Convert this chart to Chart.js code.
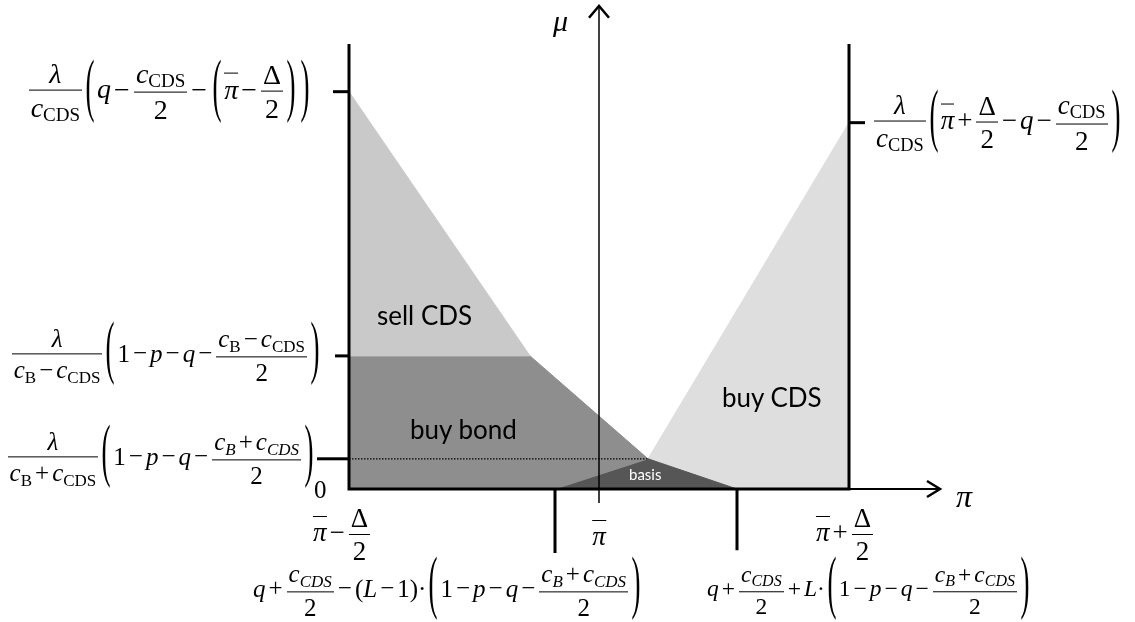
<!DOCTYPE html>
<html>
<head>
<meta charset="utf-8">
<script src="https://cdn.jsdelivr.net/npm/chart.js@4.4.0/dist/chart.umd.min.js"></script>
<style>
  html, body { margin: 0; padding: 0; background: #fff; }
  #wrap { position: relative; width: 1135px; height: 622px; overflow: hidden; }
  #c { position: absolute; left: 0; top: 0; }
  .m { position: absolute; font-family: "Liberation Serif", "DejaVu Serif", serif; font-size: 25px; line-height: 1; white-space: nowrap; color: #000; }
  .m i { font-style: italic; }
  .fr { display: inline-block; vertical-align: middle; text-align: center; margin: 0 1px; }
  .fr > span { display: block; padding: 0 2px; }
  .fr > .n { border-bottom: 1.3px solid #000; padding-bottom: 2px; }
  .fr > .d { padding-top: 3px; }
  .sb { font-size: 0.68em; vertical-align: -0.25em; }
  .sb.it { font-style: italic; }
  .op { margin: 0 3px; }
  .pr { display: inline-block; font-size: 30px; transform: scale(0.9, 2.3); transform-origin: 50% 60%; margin: 0 2px; }
  .ov { display: inline-block; border-top: 1.3px solid #000; padding-top: 5px; line-height: 0.75; }
  .rg { position: absolute; font-family: "Lato", "Open Sans", sans-serif; font-size: 26px; color: #000; white-space: nowrap; }
</style>
</head>
<body>
<div id="wrap"><canvas id="c" width="1135" height="622"></canvas></div>
<script>
// units: π runs from π̄−Δ/2 (0) to π̄+Δ/2 (10), π̄ at 5; μ runs up from 0
const X_MAX = 10, Y_TOP = 11.2;
const PI_BAR = 5;
const MU_HI = 10, MU_MID = 3.35, MU_LO = 0.76, MU_RIGHT = 9.22;
const X_KINK = 3.62, X_BASIS = 5.98, X_LEFT_TICK = 4.12, X_RIGHT_TICK = 7.76;

// shaded regions (polygons)
const sellCDS = [[0, MU_HI], [X_KINK, MU_MID], [0, MU_MID]];
const buyBond = [[0, MU_MID], [X_KINK, MU_MID], [X_BASIS, MU_LO], [X_LEFT_TICK, 0], [0, 0]];
const basis   = [[X_LEFT_TICK, 0], [X_BASIS, MU_LO], [X_RIGHT_TICK, 0]];
const buyCDS  = [[X_BASIS, MU_LO], [X_MAX, MU_RIGHT], [X_MAX, 0], [X_RIGHT_TICK, 0]];

// tick positions
const leftTicks   = [MU_HI, MU_MID, MU_LO];
const bottomTicks = [0, PI_BAR, X_MAX];

// --- tiny math-markup helpers ---
const I = (s) => `<i>${s}</i>`;
const sub = (s, it) => `<span class="sb${it ? ' it' : ''}">${s}</span>`;
const frac = (n, d) => `<span class="fr"><span class="n">${n}</span><span class="d">${d}</span></span>`;
const op = (s) => `<span class="op">${s}</span>`;
const P = (s) => `<span class="pr">${s}</span>`;
const bar = (s) => `<span class="ov">${s}</span>`;
const cCDS = I('c') + sub('CDS'), cB = I('c') + sub('B');
const cCDSi = I('c') + sub('CDS', true), cBi = I('c') + sub('B', true);
const lam = I('λ');
const pib = bar(I('π'));
const mid = '1' + op('−') + I('p') + op('−') + I('q') + op('−');

const leftLabels = [
  frac(lam, cCDS) + P('(') + I('q') + op('−') + frac(cCDS, '2') + op('−') + P('(') + pib + op('−') + frac('Δ', '2') + P(')') + P(')'),
  frac(lam, cB + op('−') + cCDS) + P('(') + mid + frac(cB + op('−') + cCDS, '2') + P(')'),
  frac(lam, cB + op('+') + cCDS) + P('(') + mid + frac(cBi + op('+') + cCDSi, '2') + P(')'),
];
const leftLabelRight = [312, 322, 316];
const leftLabelSize = ['28px', '25px', '25px'];
const bottomLabels = [pib + op('−') + frac('Δ', '2'), pib, pib + op('+') + frac('Δ', '2')];
const rightLabel = frac(lam, cCDS) + P('(') + pib + op('+') + frac('Δ', '2') + op('−') + I('q') + op('−') + frac(cCDS, '2') + P(')');
const lowLeft = I('q') + op('+') + frac(cCDSi, '2') + op('−') + '(' + I('L') + op('−') + '1)·' + P('(') + mid + frac(cBi + op('+') + cCDSi, '2') + P(')');
const lowRight = I('q') + op('+') + frac(cCDSi, '2') + op('+') + I('L') + '·' + P('(') + mid + frac(cBi + op('+') + cCDSi, '2') + P(')');

const pts = (arr) => arr.map(([x, y]) => ({ x, y }));
const region = (arr, color) => ({ data: pts(arr), fill: 'shape', backgroundColor: color, borderColor: color, borderWidth: 1, pointRadius: 0, order: 3, clip: false });
const stroke = (arr, w, dash) => ({ data: pts(arr), fill: false, borderColor: '#000', borderWidth: w, borderDash: dash || [], pointRadius: 0, order: 1, clip: false });

const datasets = [
  region(sellCDS, '#c9c9c9'),
  region(buyBond, '#8e8e8e'),
  region(basis, '#565656'),
  region(buyCDS, '#dedede'),
  stroke([[0, MU_LO], [X_BASIS, MU_LO]], 1.3, [1.5, 1.5]),
  stroke([[0, Y_TOP], [0, 0], [X_MAX, 0], [X_MAX, Y_TOP]], 3),
  stroke([[X_MAX, 0], [11.82, 0]], 2),
  stroke([[11.56, 0.2], [11.82, 0], [11.56, -0.2]], 2.5),
  stroke([[PI_BAR, -0.35], [PI_BAR, 12.15]], 1.5),
  stroke([[4.8, 11.86], [PI_BAR, 12.16], [5.2, 11.86]], 2.5),
  stroke([[-0.32, MU_HI], [0, MU_HI]], 3),
  stroke([[-0.28, MU_MID], [0, MU_MID]], 3),
  stroke([[-0.64, MU_LO], [0, MU_LO]], 3),
  stroke([[X_MAX, MU_RIGHT], [10.32, MU_RIGHT]], 3),
  stroke([[X_LEFT_TICK, 0], [X_LEFT_TICK, -1.61]], 3),
  stroke([[X_RIGHT_TICK, 0], [X_RIGHT_TICK, -1.54]], 3),
];

const chart = new Chart(document.getElementById('c'), {
  type: 'line',
  data: { datasets },
  options: {
    responsive: false, animation: false, events: [],
    layout: { padding: { left: 349, right: 286, top: 44, bottom: 133 } },
    scales: {
      x: { type: 'linear', min: 0, max: X_MAX, display: false },
      y: { type: 'linear', min: 0, max: Y_TOP, display: false },
    },
    elements: { line: { tension: 0 } },
    plugins: { legend: { display: false }, tooltip: { enabled: false } },
  },
});

// --- text overlay, placed through the chart's scales ---
const wrap = document.getElementById('wrap');
const xs = chart.scales.x, ys = chart.scales.y;
function put(html, cls, css) {
  const d = document.createElement('div');
  d.className = cls; d.innerHTML = html;
  Object.assign(d.style, css);
  wrap.appendChild(d);
  return d;
}
leftTicks.forEach((v, i) => put(leftLabels[i], 'm', { right: (1135 - leftLabelRight[i]) + 'px', top: ys.getPixelForValue(v) + 'px', transform: 'translateY(-50%)', fontSize: leftLabelSize[i] }));
bottomTicks.forEach((v, i) => put(bottomLabels[i], 'm', { left: (xs.getPixelForValue(v) - (i === 0 ? 7 : i === 2 ? 4 : 0)) + 'px', top: '535px', transform: 'translate(-50%,-50%)', fontSize: '27px' }));
put(rightLabel, 'm', { left: '873px', top: ys.getPixelForValue(MU_RIGHT) + 'px', transform: 'translateY(-50%)', fontSize: '27px' });
put(lowLeft, 'm', { left: '253px', top: '591px', transform: 'translateY(-50%)' });
put(lowRight, 'm', { left: '707px', top: '591px', transform: 'translateY(-50%)', fontSize: '23.5px' });
put('0', 'm', { left: '314px', top: '477px' });
put(I('μ'), 'm', { left: '553px', top: '6px', fontSize: '30px' });
put(I('π'), 'm', { left: '956px', top: '480px', fontSize: '32px' });
put('sell CDS', 'rg', { left: '377px', top: '299px' });
put('buy bond', 'rg', { left: '410px', top: '413px' });
put('buy CDS', 'rg', { left: '722px', top: '381px' });
put('basis', 'rg', { left: '629px', top: '465px', fontSize: '15px', color: '#fff' });
</script>
</body>
</html>
